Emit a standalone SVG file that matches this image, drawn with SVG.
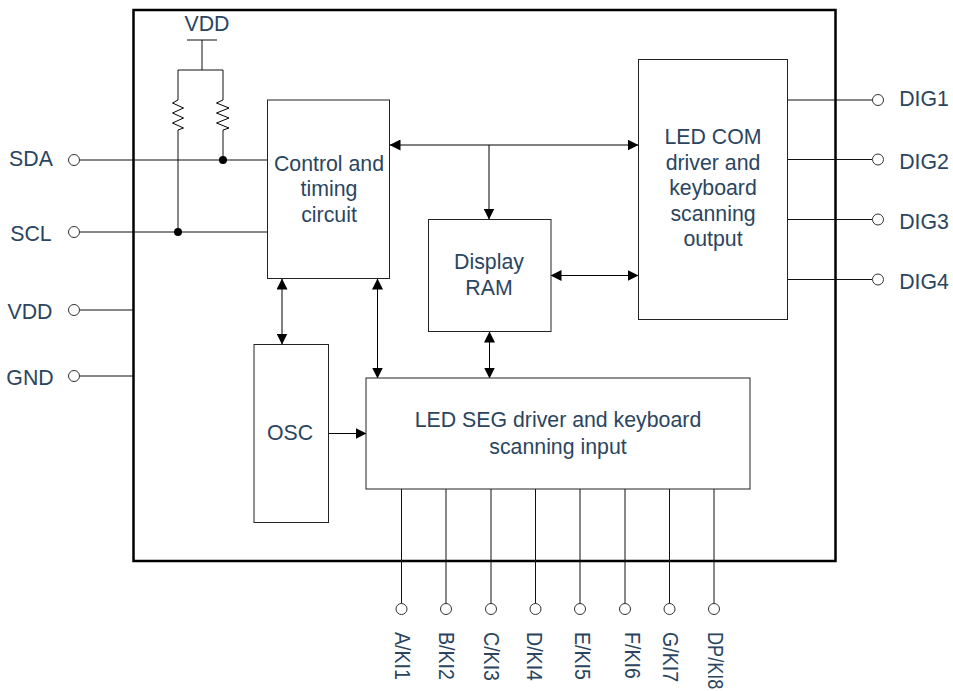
<svg xmlns="http://www.w3.org/2000/svg" width="953" height="691" viewBox="0 0 953 691">
<style>
text{font-family:"Liberation Sans",Arial,sans-serif;font-size:21.300px;fill:#2b4560;text-anchor:middle}
.b{fill:#fff;stroke:#222;stroke-width:1}
.l{fill:none;stroke:#111;stroke-width:1}
.r{fill:none;stroke:#000;stroke-width:1}
.p{fill:#fff;stroke:#333;stroke-width:1}
.d{fill:#000}
.v text{text-anchor:start}
</style>
<defs>
<marker id="a" viewBox="0 0 11 11" refX="10.5" refY="5.5" markerWidth="11" markerHeight="11" markerUnits="userSpaceOnUse" orient="auto-start-reverse"><path d="M0 0L11 5.5L0 11Z" fill="#000"/></marker>
</defs>
<rect id="chip" x="133.500" y="10" width="702" height="551" fill="#fff" stroke="#000" stroke-width="2.500"/>
<g id="connectors">
<path class="l" d="M80 160H267M80 232H267M80 310H133M80 376H133"/>
<path class="l" d="M187 40H217M202 40V70M178 70H223"/>
<path class="l" d="M178 70V100M178 130V232M223 70V100M223 130V160"/>
<path class="r" d="M178 100L172.500 103L183.500 108L172.500 113L183.500 118L172.500 123L183.500 128L178 130"/>
<path class="r" d="M223 100L216.500 103L229 108L216.500 113L229 118L216.500 123L229 128L223 130"/>
<circle class="d" cx="223" cy="160" r="4"/><circle class="d" cx="178" cy="232" r="4"/>
<path class="l" d="M788 100H872M788 159.500H872M788 219.500H872M788 279.500H872"/>
<path class="l" d="M401.500 489V604M446 489V604M491 489V604M535.500 489V604M580 489V604M625 489V604M669.500 489V604M714 489V604"/>
<g fill="none" stroke="#000" stroke-width="1">
<path marker-start="url(#a)" marker-end="url(#a)" d="M390 145H638"/>
<path marker-end="url(#a)" d="M489 145V219"/>
<path marker-start="url(#a)" marker-end="url(#a)" d="M551 275.500H638"/>
<path marker-start="url(#a)" marker-end="url(#a)" d="M282 279V344"/>
<path marker-start="url(#a)" marker-end="url(#a)" d="M377.500 279V378"/>
<path marker-start="url(#a)" marker-end="url(#a)" d="M489.500 332V378"/>
<path marker-end="url(#a)" d="M329 433.500H366"/>
</g>
</g>
<g id="control"><rect class="b" x="267.500" y="100" width="122" height="178.500"/><text x="329" y="171">Control and</text><text x="329" y="196">timing</text><text x="329" y="222">circuit</text></g>
<g id="ram"><rect class="b" x="428.500" y="219.500" width="122.500" height="112"/><text x="489" y="269">Display</text><text x="489" y="295">RAM</text></g>
<g id="com"><rect class="b" x="638.500" y="59.500" width="149" height="260"/><text x="713" y="144">LED COM</text><text x="713" y="170">driver and</text><text x="713" y="195">keyboard</text><text x="713" y="221">scanning</text><text x="713" y="246">output</text></g>
<g id="osc"><rect class="b" x="254" y="344.500" width="74.500" height="178"/><text x="290" y="440">OSC</text></g>
<g id="seg"><rect class="b" x="366" y="378" width="384" height="111"/><text x="558" y="427">LED SEG driver and keyboard</text><text x="558" y="454">scanning input</text></g>
<g id="pin-sda"><circle class="p" cx="74" cy="160" r="5.500"/><text x="31" y="166">SDA</text></g>
<g id="pin-scl"><circle class="p" cx="74" cy="232" r="5.500"/><text x="31" y="241">SCL</text></g>
<g id="pin-vdd"><circle class="p" cx="74" cy="310" r="5.500"/><text x="30" y="319">VDD</text></g>
<g id="pin-gnd"><circle class="p" cx="74" cy="376" r="5.500"/><text x="30" y="385">GND</text></g>
<g id="pin-vdd-top"><text x="207" y="31">VDD</text></g>
<g id="pin-dig1"><circle class="p" cx="878" cy="100" r="5.500"/><text x="924" y="106">DIG1</text></g>
<g id="pin-dig2"><circle class="p" cx="878" cy="159.500" r="5.500"/><text x="924" y="169">DIG2</text></g>
<g id="pin-dig3"><circle class="p" cx="878" cy="219.500" r="5.500"/><text x="924" y="229">DIG3</text></g>
<g id="pin-dig4"><circle class="p" cx="878" cy="279.500" r="5.500"/><text x="924" y="289">DIG4</text></g>
<g class="v">
<g id="pin-a"><circle class="p" cx="401.500" cy="609" r="5.500"/><text transform="translate(395 632) rotate(90) scale(.92 1)">A/KI1</text></g>
<g id="pin-b"><circle class="p" cx="446" cy="609" r="5.500"/><text transform="translate(439 632) rotate(90) scale(.92 1)">B/KI2</text></g>
<g id="pin-c"><circle class="p" cx="491" cy="609" r="5.500"/><text transform="translate(484 632) rotate(90) scale(.92 1)">C/KI3</text></g>
<g id="pin-d"><circle class="p" cx="535.500" cy="609" r="5.500"/><text transform="translate(527 632) rotate(90) scale(.92 1)">D/KI4</text></g>
<g id="pin-e"><circle class="p" cx="580" cy="609" r="5.500"/><text transform="translate(575 632) rotate(90) scale(.92 1)">E/KI5</text></g>
<g id="pin-f"><circle class="p" cx="625" cy="609" r="5.500"/><text transform="translate(625 632) rotate(90) scale(.92 1)">F/KI6</text></g>
<g id="pin-g"><circle class="p" cx="669.500" cy="609" r="5.500"/><text transform="translate(663 632) rotate(90) scale(.92 1)">G/KI7</text></g>
<g id="pin-dp"><circle class="p" cx="714" cy="609" r="5.500"/><text transform="translate(708 632) rotate(90) scale(.85 1)">DP/KI8</text></g>
</g>
</svg>
